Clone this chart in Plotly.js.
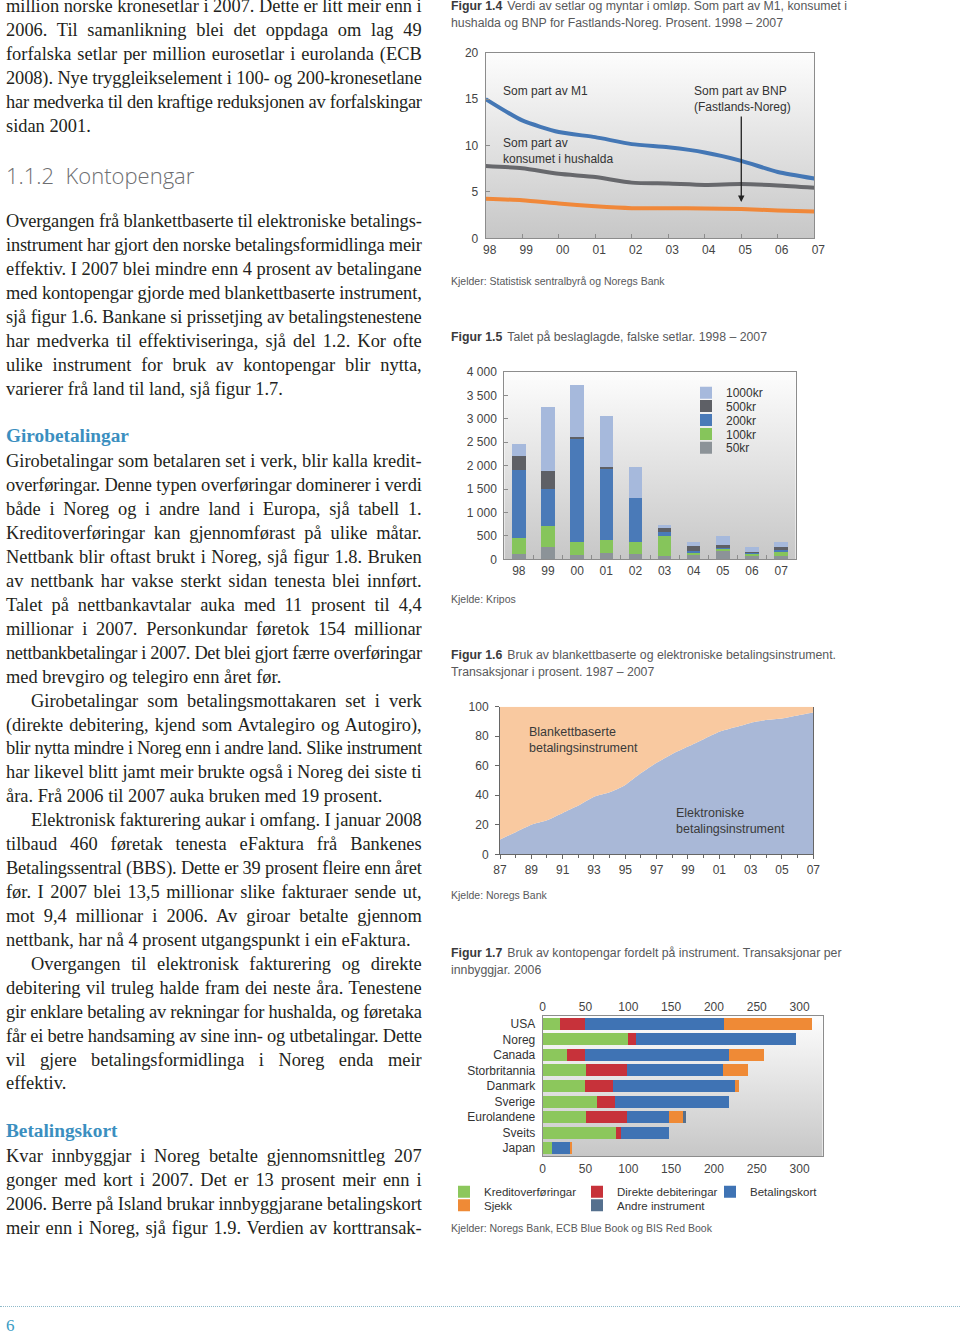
<!DOCTYPE html>
<html lang="nn">
<head>
<meta charset="utf-8">
<title>Kontopengar</title>
<script src="https://cdn.plot.ly/plotly-3.0.1.min.js"></script>
<style>
html,body{margin:0;padding:0;background:#fff;}
#page{position:relative;width:960px;height:1335px;overflow:hidden;background:#fff;}
#chart{position:absolute;left:0;top:0;width:960px;height:1335px;}
#text{position:absolute;left:0;top:0;width:960px;height:1335px;pointer-events:none;}
.ln{position:absolute;white-space:pre;height:24px;line-height:24px;font-family:'Liberation Serif','Times New Roman',serif;font-size:18.4px;color:#231f20;}
.hd{font-weight:bold;color:#3b8fc0;font-size:19.3px;}
.sec{font-family:'Open Sans','Liberation Sans',sans-serif;font-weight:300;font-size:22px;color:#6d6e71;}
.cap{position:absolute;left:451px;font-family:'Liberation Sans',Arial,sans-serif;font-size:12.3px;line-height:17px;height:17px;color:#58595b;white-space:pre;}
.cap b{font-weight:bold;color:#3a3a3c;margin-right:5px;}
.src{position:absolute;left:451px;font-family:'Liberation Sans',Arial,sans-serif;font-size:10.5px;line-height:16px;color:#58595b;white-space:pre;}
.rule{position:absolute;left:0;top:1306px;width:960px;border-top:1px dotted #8fb9c9;}
.pn{position:absolute;left:6px;top:1314px;font-family:'Liberation Serif',serif;font-size:17px;line-height:24px;color:#3a9cc4;}
</style>
</head>
<body>
<div id="page">
  <div id="chart"></div>
  <div id="text">
    <div class="cap" style="top:-2.5px"><b>Figur 1.4</b><span>Verdi av setlar og myntar i omløp. Som part av M1, konsumet i</span></div>
    <div class="cap" style="top:14.5px"><span>hushalda og BNP for Fastlands-Noreg. Prosent. 1998 – 2007</span></div>
    <div class="src" style="top:273px">Kjelder: Statistisk sentralbyrå og Noregs Bank</div>
    <div class="cap" style="top:328.5px"><b>Figur 1.5</b><span>Talet på beslaglagde, falske setlar. 1998 – 2007</span></div>
    <div class="src" style="top:591px">Kjelde: Kripos</div>
    <div class="cap" style="top:646.5px"><b>Figur 1.6</b><span>Bruk av blankettbaserte og elektroniske betalingsinstrument.</span></div>
    <div class="cap" style="top:663.5px"><span>Transaksjonar i prosent. 1987 – 2007</span></div>
    <div class="src" style="top:887px">Kjelde: Noregs Bank</div>
    <div class="cap" style="top:944.5px"><b>Figur 1.7</b><span>Bruk av kontopengar fordelt på instrument. Transaksjonar per</span></div>
    <div class="cap" style="top:961.5px"><span>innbyggjar. 2006</span></div>
    <div class="src" style="top:1220px">Kjelder: Noregs Bank, ECB Blue Book og BIS Red Book</div>
    <div class="rule"></div>
    <div class="pn">6</div>
  </div>
</div>
<script>
// ---------- Figur 1.4 data ----------
const years14 = [1998, 1999, 2000, 2001, 2002, 2003, 2004, 2005, 2006, 2007];
const yearLabels14 = ['98', '99', '00', '01', '02', '03', '04', '05', '06', '07'];
const m1Share = [15.0, 12.7, 11.45, 10.9, 10.15, 9.8, 9.25, 8.35, 7.15, 6.45];
const consumptionShare = [7.8, 7.55, 6.95, 6.6, 6.0, 5.9, 5.75, 5.85, 5.7, 5.45];
const gdpShare = [4.25, 4.1, 3.75, 3.45, 3.25, 3.25, 3.2, 3.15, 3.0, 2.9];

// ---------- Figur 1.5 data ----------
const years15 = ['98', '99', '00', '01', '02', '03', '04', '05', '06', '07'];
const notes50 = [105, 270, 100, 130, 105, 75, 100, 185, 70, 65];
const notes100 = [340, 435, 265, 280, 265, 430, 40, 30, 35, 85];
const notes200 = [1455, 805, 2205, 1525, 930, 70, 40, 35, 35, 50];
const notes500 = [315, 370, 50, 35, 10, 100, 100, 55, 20, 55];
const notes1000 = [240, 1380, 1110, 1090, 670, 55, 85, 200, 95, 110];
const countTickVals = [0, 500, 1000, 1500, 2000, 2500, 3000, 3500, 4000];
const countTickText = ['0', '500', '1 000', '1 500', '2 000', '2 500', '3 000', '3 500', '4 000'];

// ---------- Figur 1.6 data ----------
const years16 = [1987, 1988, 1989, 1990, 1991, 1992, 1993, 1994, 1995, 1996, 1997,
                 1998, 1999, 2000, 2001, 2002, 2003, 2004, 2005, 2006, 2007];
const electronicShare = [10, 15, 20, 23, 28, 33, 39, 42, 47, 55, 62, 68, 73, 78, 83, 86, 89, 91, 92, 94, 96];
const formBasedShare = [90, 85, 80, 77, 72, 67, 61, 58, 53, 45, 38, 32, 27, 22, 17, 14, 11, 9, 8, 6, 4];
const tickYears16 = [1987, 1989, 1991, 1993, 1995, 1997, 1999, 2001, 2003, 2005, 2007];
const tickLabels16 = ['87', '89', '91', '93', '95', '97', '99', '01', '03', '05', '07'];

// ---------- Figur 1.7 data ----------
const countries = ['USA', 'Noreg', 'Canada', 'Storbritannia', 'Danmark', 'Sverige', 'Eurolandene', 'Sveits', 'Japan'];
const creditTransfers = [20, 100, 28, 51, 49, 63, 51, 86, 11];
const directDebits = [29, 9, 21, 48, 33, 22, 48, 6, 0];
const paymentCards = [163, 187, 169, 112, 143, 133, 49, 56, 21];
const cheques = [103, 0, 41, 29, 4, 0, 16, 0, 2];
const otherInstruments = [0, 0, 0, 0, 0, 0, 3, 0, 0];

// ---------- page geometry helpers ----------
const W = 960, H = 1335;
const px = x => x / W;
const py = y => 1 - y / H;
const hdom = (a, b) => [a / W, b / W];
const vdom = (top, bottom) => [1 - bottom / H, 1 - top / H];

const FONT = "'Liberation Sans', Arial, sans-serif";
const tickFont = {family: FONT, size: 12, color: '#444'};

function ax(extra) {
  return Object.assign({
    showgrid: false, zeroline: false, showline: true, linecolor: '#8c8c8c', linewidth: 1,
    ticks: 'inside', ticklen: 4, tickcolor: '#8c8c8c', tickfont: tickFont,
    fixedrange: true, ticklabelstandoff: 4
  }, extra);
}

const gradSrc = 'data:image/svg+xml;base64,' + btoa(
  '<svg xmlns="http://www.w3.org/2000/svg" width="10" height="100" viewBox="0 0 10 100" preserveAspectRatio="none">' +
  '<defs><linearGradient id="g" x1="0" y1="0" x2="0" y2="1">' +
  '<stop offset="0" stop-color="#fdfdfd"/><stop offset="1" stop-color="#c7c7c7"/>' +
  '</linearGradient></defs><rect width="10" height="100" fill="url(#g)"/></svg>');

function bgImage(l, t, r, b) {
  return {source: gradSrc, xref: 'paper', yref: 'paper', x: px(l), y: py(t),
          sizex: (r - l) / W, sizey: (b - t) / H, xanchor: 'left', yanchor: 'top',
          sizing: 'stretch', layer: 'below'};
}

function legendAt(xLeft, yCenter, horizontal, entrywidth, size) {
  const o = {x: px(xLeft), xanchor: 'left', y: py(yCenter), yanchor: 'middle',
             orientation: horizontal ? 'h' : 'v', bgcolor: 'rgba(0,0,0,0)', borderwidth: 0,
             font: {family: FONT, size: size || 12, color: '#333'}, itemclick: false, itemdoubleclick: false,
             tracegroupgap: 0, traceorder: 'normal'};
  if (entrywidth) o.entrywidth = entrywidth;
  return o;
}

const traces = [
  // Figur 1.4
  {type: 'scatter', mode: 'lines', x: years14, y: gdpShare, name: 'Som part av BNP (Fastlands-Noreg)',
   line: {color: '#f0883a', width: 4, shape: 'spline', smoothing: 0.6}, xaxis: 'x', yaxis: 'y', showlegend: false},
  {type: 'scatter', mode: 'lines', x: years14, y: consumptionShare, name: 'Som part av konsumet i hushalda',
   line: {color: '#67686c', width: 4, shape: 'spline', smoothing: 0.6}, xaxis: 'x', yaxis: 'y', showlegend: false},
  {type: 'scatter', mode: 'lines', x: years14, y: m1Share, name: 'Som part av M1',
   line: {color: '#4477b5', width: 4, shape: 'spline', smoothing: 0.6}, xaxis: 'x', yaxis: 'y', showlegend: false},

  // Figur 1.5
  {type: 'bar', x: years15, y: notes50, name: '50kr', marker: {color: '#8c9398'}, width: 0.46,
   xaxis: 'x2', yaxis: 'y3', legend: 'legend6'},
  {type: 'bar', x: years15, y: notes100, name: '100kr', marker: {color: '#86c55b'}, width: 0.46,
   xaxis: 'x2', yaxis: 'y3', legend: 'legend5'},
  {type: 'bar', x: years15, y: notes200, name: '200kr', marker: {color: '#4a7ab8'}, width: 0.46,
   xaxis: 'x2', yaxis: 'y3', legend: 'legend4'},
  {type: 'bar', x: years15, y: notes500, name: '500kr', marker: {color: '#5e6066'}, width: 0.46,
   xaxis: 'x2', yaxis: 'y3', legend: 'legend3'},
  {type: 'bar', x: years15, y: notes1000, name: '1000kr', marker: {color: '#a6b9dc'}, width: 0.46,
   xaxis: 'x2', yaxis: 'y3', legend: 'legend'},

  // Figur 1.6
  {type: 'scatter', mode: 'lines', x: years16, y: electronicShare, name: 'Elektroniske betalingsinstrument',
   stackgroup: 'f16', line: {width: 0, shape: 'spline', smoothing: 0.5}, fillcolor: '#a9b8d7',
   xaxis: 'x3', yaxis: 'y5', showlegend: false},
  {type: 'scatter', mode: 'lines', x: years16, y: formBasedShare, name: 'Blankettbaserte betalingsinstrument',
   stackgroup: 'f16', line: {width: 0, shape: 'spline', smoothing: 0.5}, fillcolor: '#f9c9a0',
   xaxis: 'x3', yaxis: 'y5', showlegend: false},

  // Figur 1.7
  {type: 'bar', orientation: 'h', y: countries, x: creditTransfers, name: 'Kreditoverføringar',
   marker: {color: '#8cc75c'}, width: 0.77, xaxis: 'x4', yaxis: 'y7', legend: 'legend2'},
  {type: 'bar', orientation: 'h', y: countries, x: directDebits, name: 'Direkte debiteringar',
   marker: {color: '#c7323a'}, width: 0.77, xaxis: 'x4', yaxis: 'y7', legend: 'legend2'},
  {type: 'bar', orientation: 'h', y: countries, x: paymentCards, name: 'Betalingskort',
   marker: {color: '#3f73b4'}, width: 0.77, xaxis: 'x4', yaxis: 'y7', legend: 'legend2'},
  {type: 'bar', orientation: 'h', y: countries, x: cheques, name: 'Sjekk',
   marker: {color: '#ef8a36'}, width: 0.77, xaxis: 'x4', yaxis: 'y7', legend: 'legend7'},
  {type: 'bar', orientation: 'h', y: countries, x: otherInstruments, name: 'Andre instrument',
   marker: {color: '#55708e'}, width: 0.77, xaxis: 'x4', yaxis: 'y7', legend: 'legend7'},
  // empty helper trace so the top (mirrored) value axis of Figur 1.7 gets its own subplot
  {type: 'scatter', mode: 'markers', x: [], y: [], xaxis: 'x5', yaxis: 'y7', showlegend: false, hoverinfo: 'skip'}
];

const annFont = {family: FONT, size: 12, color: '#333'};
const annotations = [
  {xref: 'paper', yref: 'paper', x: px(500.7), y: py(91), xanchor: 'left', yanchor: 'middle',
   text: 'Som part av M1', showarrow: false, align: 'left', font: annFont},
  {xref: 'paper', yref: 'paper', x: px(500.7), y: py(150.7), xanchor: 'left', yanchor: 'middle',
   text: 'Som part av<br>konsumet i hushalda', showarrow: false, align: 'left', font: annFont},
  {xref: 'paper', yref: 'paper', x: px(692.3), y: py(99), xanchor: 'left', yanchor: 'middle',
   text: 'Som part av BNP<br>(Fastlands-Noreg)', showarrow: false, align: 'left', font: annFont},
  {xref: 'x', yref: 'y', x: 2005, y: 3.9, text: '', showarrow: true, axref: 'pixel', ayref: 'pixel',
   ax: 0, ay: -87, arrowhead: 2, arrowsize: 1, arrowwidth: 1.3, arrowcolor: '#222'},
  {xref: 'paper', yref: 'paper', x: px(527.3), y: py(740.3), xanchor: 'left', yanchor: 'middle',
   text: 'Blankettbaserte<br>betalingsinstrument', showarrow: false, align: 'left',
   font: {family: FONT, size: 12.5, color: '#3a3a3a'}},
  {xref: 'paper', yref: 'paper', x: px(674), y: py(820.8), xanchor: 'left', yanchor: 'middle',
   text: 'Elektroniske<br>betalingsinstrument', showarrow: false, align: 'left',
   font: {family: FONT, size: 12.5, color: '#3a3a3a'}}
];

const layout = {
  width: W, height: H, margin: {l: 0, r: 0, t: 0, b: 0, pad: 0},
  paper_bgcolor: 'rgba(0,0,0,0)', plot_bgcolor: 'rgba(0,0,0,0)',
  hovermode: false, barmode: 'stack', showlegend: true,
  font: {family: FONT, size: 12, color: '#444'},
  images: [bgImage(485.7, 52.7, 814.3, 238.3), bgImage(504.3, 372, 795.7, 559.3), bgImage(542.7, 1016, 822.7, 1156)],
  annotations: annotations,

  // Figur 1.4
  xaxis: ax({domain: hdom(485.7, 814.3), anchor: 'y', range: [1998, 2007], tickmode: 'array',
             tickvals: years14, ticktext: yearLabels14, mirror: true, ticklabelshift: 4, ticklabelstandoff: 0}),
  yaxis: ax({domain: vdom(52.7, 238.3), anchor: 'x', range: [0, 20], tickmode: 'linear', tick0: 0, dtick: 5, mirror: true}),
  yaxis2: ax({overlaying: 'y', side: 'right', anchor: 'x', range: [0, 20], tickmode: 'linear', tick0: 0, dtick: 5}),

  // Figur 1.5
  xaxis2: ax({domain: hdom(504.3, 795.7), anchor: 'y3', type: 'category', categoryorder: 'array',
              categoryarray: years15, range: [-0.5, 9.5], tickson: 'boundaries', mirror: true, ticklabelstandoff: 0}),
  yaxis3: ax({domain: vdom(372, 559.3), anchor: 'x2', range: [0, 4000], tickmode: 'array',
              tickvals: countTickVals, ticktext: countTickText, mirror: true}),
  yaxis4: ax({overlaying: 'y3', side: 'right', anchor: 'x2', range: [0, 4000], tickmode: 'array',
              tickvals: countTickVals, ticktext: countTickText}),

  // Figur 1.6
  xaxis3: ax({domain: hdom(500, 813.3), anchor: 'y5', range: [1987, 2007], tickmode: 'array',
              tickvals: tickYears16, ticktext: tickLabels16, ticks: 'outside', ticklen: 4,
              linecolor: '#666', tickcolor: '#666', ticklabelstandoff: 0,
              minor: {ticks: 'outside', ticklen: 3, tickcolor: '#666', tickmode: 'linear', tick0: 1987, dtick: 1}}),
  yaxis5: ax({domain: vdom(706.7, 854.3), anchor: 'x3', range: [0, 100], tickmode: 'linear', tick0: 0, dtick: 20,
              ticks: 'outside', linecolor: '#666', tickcolor: '#666', mirror: true}),
  yaxis6: ax({overlaying: 'y5', side: 'right', anchor: 'x3', range: [0, 100], tickmode: 'linear', tick0: 0, dtick: 20,
              linecolor: '#666', tickcolor: '#666'}),

  // Figur 1.7
  xaxis4: ax({domain: hdom(542.7, 822.7), anchor: 'y7', range: [0, 327], tickmode: 'linear', tick0: 0, dtick: 50,
              ticks: '', mirror: true, ticklabelstandoff: 2}),
  xaxis5: ax({overlaying: 'x4', side: 'top', anchor: 'y7', range: [0, 327], tickmode: 'linear', tick0: 0, dtick: 50,
              ticks: '', showline: false, ticklabelstandoff: 2}),
  yaxis7: ax({domain: vdom(1016, 1156), anchor: 'x4', type: 'category', categoryorder: 'array',
              categoryarray: countries, range: [8.5, -0.5], ticks: '', mirror: true,
              tickmode: 'array', tickvals: countries, ticktext: countries,
              tickfont: {family: FONT, size: 12, color: '#333'}}),

  // legends
  legend: legendAt(686, 392.7, false),
  legend3: legendAt(686, 406, false),
  legend4: legendAt(686, 420, false),
  legend5: legendAt(686, 434, false),
  legend6: legendAt(686, 447.7, false),
  legend2: legendAt(444, 1191.7, true, 88, 11.5),
  legend7: legendAt(444, 1205.3, true, 88, 11.5)
};

Plotly.newPlot('chart', traces, layout, {displayModeBar: false, staticPlot: true});

// ---------- left column body text ----------
const PITCH = 23.93;
const blockA = [
  ['million norske kronesetlar i 2007. Dette er litt meir enn i', 'j'],
  ['2006. Til samanlikning blei det oppdaga om lag 49', 'j'],
  ['forfalska setlar per million eurosetlar i eurolanda (ECB', 'j'],
  ['2008). Nye tryggleikselement i 100- og 200-kronesetlane', 'j'],
  ['har medverka til den kraftige reduksjonen av forfalskingar', 'j'],
  ['sidan 2001.', 'l']
];
const blockB = [
  ['Overgangen frå blankettbaserte til elektroniske betalings-', 'j'],
  ['instrument har gjort den norske betalingsformidlinga meir', 'j'],
  ['effektiv. I 2007 blei mindre enn 4 prosent av betalingane', 'j'],
  ['med kontopengar gjorde med blankettbaserte instrument,', 'j'],
  ['sjå figur 1.6. Bankane si prissetjing av betalingstenestene', 'j'],
  ['har medverka til effektiviseringa, sjå del 1.2. Kor ofte', 'j'],
  ['ulike instrument for bruk av kontopengar blir nytta,', 'j'],
  ['varierer frå land til land, sjå figur 1.7.', 'l']
];
const blockC = [
  ['Girobetalingar som betalaren set i verk, blir kalla kredit-', 'j'],
  ['overføringar. Denne typen overføringar dominerer i verdi', 'j'],
  ['både i Noreg og i andre land i Europa, sjå tabell 1.', 'j'],
  ['Kreditoverføringar kan gjennomførast på ulike måtar.', 'j'],
  ['Nettbank blir oftast brukt i Noreg, sjå figur 1.8. Bruken', 'j'],
  ['av nettbank har vakse sterkt sidan tenesta blei innført.', 'j'],
  ['Talet på nettbankavtalar auka med 11 prosent til 4,4', 'j'],
  ['millionar i 2007. Personkundar føretok 154 millionar', 'j'],
  ['nettbankbetalingar i 2007. Det blei gjort færre overføringar', 'j'],
  ['med brevgiro og telegiro enn året før.', 'l'],
  ['Girobetalingar som betalingsmottakaren set i verk', 'i'],
  ['(direkte debitering, kjend som Avtalegiro og Autogiro),', 'j'],
  ['blir nytta mindre i Noreg enn i andre land. Slike instrument', 'j'],
  ['har likevel blitt jamt meir brukte også i Noreg dei siste ti', 'j'],
  ['åra. Frå 2006 til 2007 auka bruken med 19 prosent.', 'l'],
  ['Elektronisk fakturering aukar i omfang. I januar 2008', 'i'],
  ['tilbaud 460 føretak tenesta eFaktura frå Bankenes', 'j'],
  ['Betalingssentral (BBS). Dette er 39 prosent fleire enn året', 'j'],
  ['før. I 2007 blei 13,5 millionar slike fakturaer sende ut,', 'j'],
  ['mot 9,4 millionar i 2006. Av giroar betalte gjennom', 'j'],
  ['nettbank, har nå 4 prosent utgangspunkt i ein eFaktura.', 'l'],
  ['Overgangen til elektronisk fakturering og direkte', 'i'],
  ['debitering vil truleg halde fram dei neste åra. Tenestene', 'j'],
  ['gir enklare betaling av rekningar for hushalda, og føretaka', 'j'],
  ['får ei betre handsaming av sine inn- og utbetalingar. Dette', 'j'],
  ['vil gjere betalingsformidlinga i Noreg enda meir', 'j'],
  ['effektiv.', 'l']
];
const blockD = [
  ['Kvar innbyggjar i Noreg betalte gjennomsnittleg 207', 'j'],
  ['gonger med kort i 2007. Det er 13 prosent meir enn i', 'j'],
  ['2006. Berre på Island brukar innbyggjarane betalingskort', 'j'],
  ['meir enn i Noreg, sjå figur 1.9. Verdien av korttransak-', 'j']
];

const textLayer = document.getElementById('text');
const LEFT = 6, RIGHT = 421.7, INDENT = 25;

function addLine(str, yCenter, cls, left) {
  const d = document.createElement('div');
  d.className = 'ln' + (cls ? ' ' + cls : '');
  d.style.top = (yCenter - 13) + 'px';
  d.style.left = left + 'px';
  d.textContent = str;
  textLayer.appendChild(d);
  return d;
}

function fitLine(el, target, justify) {
  const w = el.getBoundingClientRect().width;
  const str = el.textContent;
  const n = (str.match(/ /g) || []).length;
  if (w > target) {
    el.style.letterSpacing = ((target - w) / str.length) + 'px';
  } else if (justify && n > 0) {
    el.style.wordSpacing = ((target - w) / n) + 'px';
  }
}

function addBlock(lines, y0) {
  lines.forEach((ln, i) => {
    const indent = ln[1] === 'i' ? INDENT : 0;
    const el = addLine(ln[0], y0 + i * PITCH, '', LEFT + indent);
    fitLine(el, RIGHT - LEFT - indent, ln[1] !== 'l');
  });
}

addBlock(blockA, 7.3);
addLine('1.1.2  Kontopengar', 175.7, 'sec', LEFT);
addBlock(blockB, 222.3);
addLine('Girobetalingar', 437.3, 'hd', LEFT);
addBlock(blockC, 462.3);
addLine('Betalingskort', 1132.3, 'hd', LEFT);
addBlock(blockD, 1157.3);
</script>
</body>
</html>
